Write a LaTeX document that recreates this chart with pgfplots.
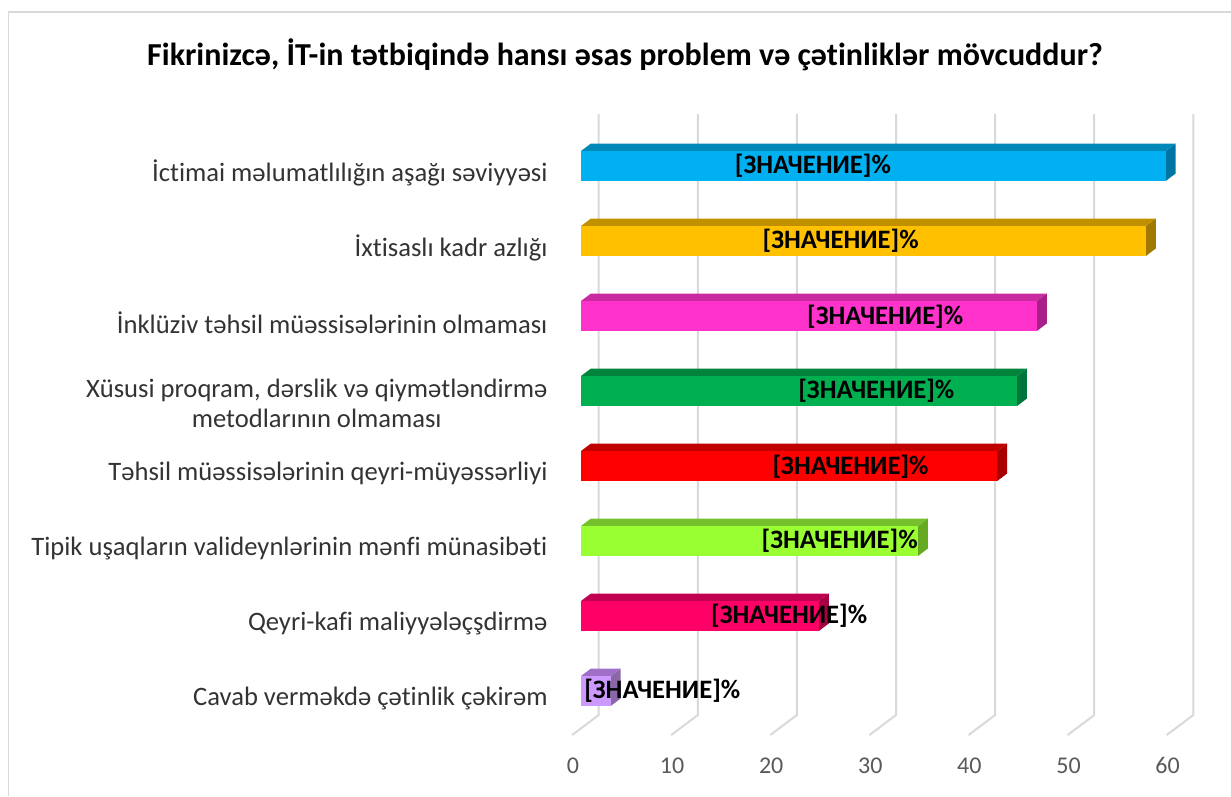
\documentclass[border=0pt]{standalone}
\usepackage{pgfplots}
\pgfplotsset{compat=1.18}
\usepackage{fontspec}
\setmainfont[Ligatures={NoCommon,TeX}]{Carlito}
\definecolor{gridc}{HTML}{D9D9D9}
\newcommand{\dl}[2]{\node[font=\fontsize{26.6}{28}\selectfont\bfseries,text=black] at (axis cs:#1,#2) {[ЗНАЧЕНИЕ]\%};}
\begin{document}
\begin{tikzpicture}[x=1pt,y=1pt]
\path[use as bounding box] (0,0) rectangle (1231,796);
\draw[gridc,line width=1.7pt] (8.5,0) -- (8.5,784.3) -- (1231,784.3);
\begin{axis}[
  at={(581pt,67.5pt)},anchor=south west,
  scale only axis,width=594.6pt,height=600pt,
  xmin=0,xmax=60,ymin=-0.5,ymax=7.5,
  y dir=reverse,clip=false,
  axis line style={draw=none},
  major tick length=0pt,
  xtick={0,10,20,30,40,50,60},
  ytick={0,1,2,3.067,4,5,6,7},
  yticklabels={
    {İctimai məlumatlılığın aşağı səviyyəsi},
    {İxtisaslı kadr azlığı},
    {İnklüziv təhsil müəssisələrinin olmaması},
    {Xüsusi proqram, dərslik və qiymətləndirmə\\metodlarının olmaması},
    {Təhsil müəssisələrinin qeyri-müyəssərliyi},
    {Tipik uşaqların valideynlərinin mənfi münasibəti},
    {Qeyri-kafi maliyyələçşdirmə},
    {Cavab verməkdə çətinlik çəkirəm}},
  /pgf/number format/assume math mode=true,
  xticklabel style={font=\fontsize{24}{26}\selectfont,text=black!65,anchor=base,xshift=-8pt,yshift=-44.5pt},
  yticklabel style={font=\fontsize{26.6}{30}\selectfont,text=black!80,align=center,anchor=east,xshift=-30pt,yshift=-7pt},
  title={\fontsize{32}{36}\selectfont\bfseries Fikrinizcə, İT-in tətbiqində hansı əsas problem və çətinliklər mövcuddur?},
  title style={at={(0.074,1.1135)},anchor=center},
  bar width=30pt,
]
% gridlines: wall then floor
\pgfplotsinvokeforeach{0,10,20,30,40,50,60}{
  \addplot[gridc,line width=2pt,forget plot] coordinates {(#1+1.79,-0.693) (#1+1.79,7.32) (#1-0.9,7.587)};
}
% Bars: side, top, front
\addplot[draw=none,forget plot,fill={rgb,255:red,0;green,117;blue,163}] coordinates {(59,-0.2) (60,-0.3) (60,0.1) (59,0.2)} -- cycle;
\addplot[draw=none,forget plot,fill={rgb,255:red,0;green,136;blue,184}] coordinates {(0,-0.2) (1,-0.3) (60,-0.3) (59,-0.2)} -- cycle;
\addplot[xbar,bar shift=0pt,draw=none,fill={rgb,255:red,0;green,176;blue,240}] coordinates {(59,0)};

\addplot[draw=none,forget plot,fill={rgb,255:red,161;green,121;blue,0}] coordinates {(57,0.8) (58,0.7) (58,1.1) (57,1.2)} -- cycle;
\addplot[draw=none,forget plot,fill={rgb,255:red,192;green,144;blue,0}] coordinates {(0,0.8) (1,0.7) (58,0.7) (57,0.8)} -- cycle;
\addplot[xbar,bar shift=0pt,draw=none,fill={rgb,255:red,255;green,192;blue,0}] coordinates {(57,1)};

\addplot[draw=none,forget plot,fill={rgb,255:red,168;green,32;blue,135}] coordinates {(46,1.8) (47,1.7) (47,2.1) (46,2.2)} -- cycle;
\addplot[draw=none,forget plot,fill={rgb,255:red,201;green,42;blue,160}] coordinates {(0,1.8) (1,1.7) (47,1.7) (46,1.8)} -- cycle;
\addplot[xbar,bar shift=0pt,draw=none,fill={rgb,255:red,255;green,51;blue,204}] coordinates {(46,2)};

\addplot[draw=none,forget plot,fill={rgb,255:red,0;green,117;blue,58}] coordinates {(44,2.8) (45,2.7) (45,3.1) (44,3.2)} -- cycle;
\addplot[draw=none,forget plot,fill={rgb,255:red,0;green,132;blue,60}] coordinates {(0,2.8) (1,2.7) (45,2.7) (44,2.8)} -- cycle;
\addplot[xbar,bar shift=0pt,draw=none,fill={rgb,255:red,0;green,176;blue,80}] coordinates {(44,3)};

\addplot[draw=none,forget plot,fill={rgb,255:red,168;green,0;blue,0}] coordinates {(42,3.8) (43,3.7) (43,4.1) (42,4.2)} -- cycle;
\addplot[draw=none,forget plot,fill={rgb,255:red,192;green,0;blue,0}] coordinates {(0,3.8) (1,3.7) (43,3.7) (42,3.8)} -- cycle;
\addplot[xbar,bar shift=0pt,draw=none,fill={rgb,255:red,255;green,0;blue,0}] coordinates {(42,4)};

\addplot[draw=none,forget plot,fill={rgb,255:red,102;green,170;blue,34}] coordinates {(34,4.8) (35,4.7) (35,5.1) (34,5.2)} -- cycle;
\addplot[draw=none,forget plot,fill={rgb,255:red,118;green,193;blue,43}] coordinates {(0,4.8) (1,4.7) (35,4.7) (34,4.8)} -- cycle;
\addplot[xbar,bar shift=0pt,draw=none,fill={rgb,255:red,153;green,255;blue,51}] coordinates {(34,5)};

\addplot[draw=none,forget plot,fill={rgb,255:red,168;green,0;blue,69}] coordinates {(24,5.8) (25,5.7) (25,6.1) (24,6.2)} -- cycle;
\addplot[draw=none,forget plot,fill={rgb,255:red,192;green,0;blue,80}] coordinates {(0,5.8) (1,5.7) (25,5.7) (24,5.8)} -- cycle;
\addplot[xbar,bar shift=0pt,draw=none,fill={rgb,255:red,255;green,0;blue,102}] coordinates {(24,6)};

\addplot[draw=none,forget plot,fill={rgb,255:red,138;green,104;blue,168}] coordinates {(3,6.8) (4,6.7) (4,7.1) (3,7.2)} -- cycle;
\addplot[draw=none,forget plot,fill={rgb,255:red,160;green,112;blue,200}] coordinates {(0,6.8) (1,6.7) (4,6.7) (3,6.8)} -- cycle;
\addplot[xbar,bar shift=0pt,draw=none,fill={rgb,255:red,204;green,153;blue,255}] coordinates {(3,7)};

% data labels
\dl{23.4}{0}
\dl{26.2}{1}
\dl{30.7}{2.01}
\dl{29.8}{3}
\dl{27.2}{4.01}
\dl{26.1}{5}
\dl{21}{5.99}
\dl{8.2}{6.99}
\end{axis}
\end{tikzpicture}
\end{document}
